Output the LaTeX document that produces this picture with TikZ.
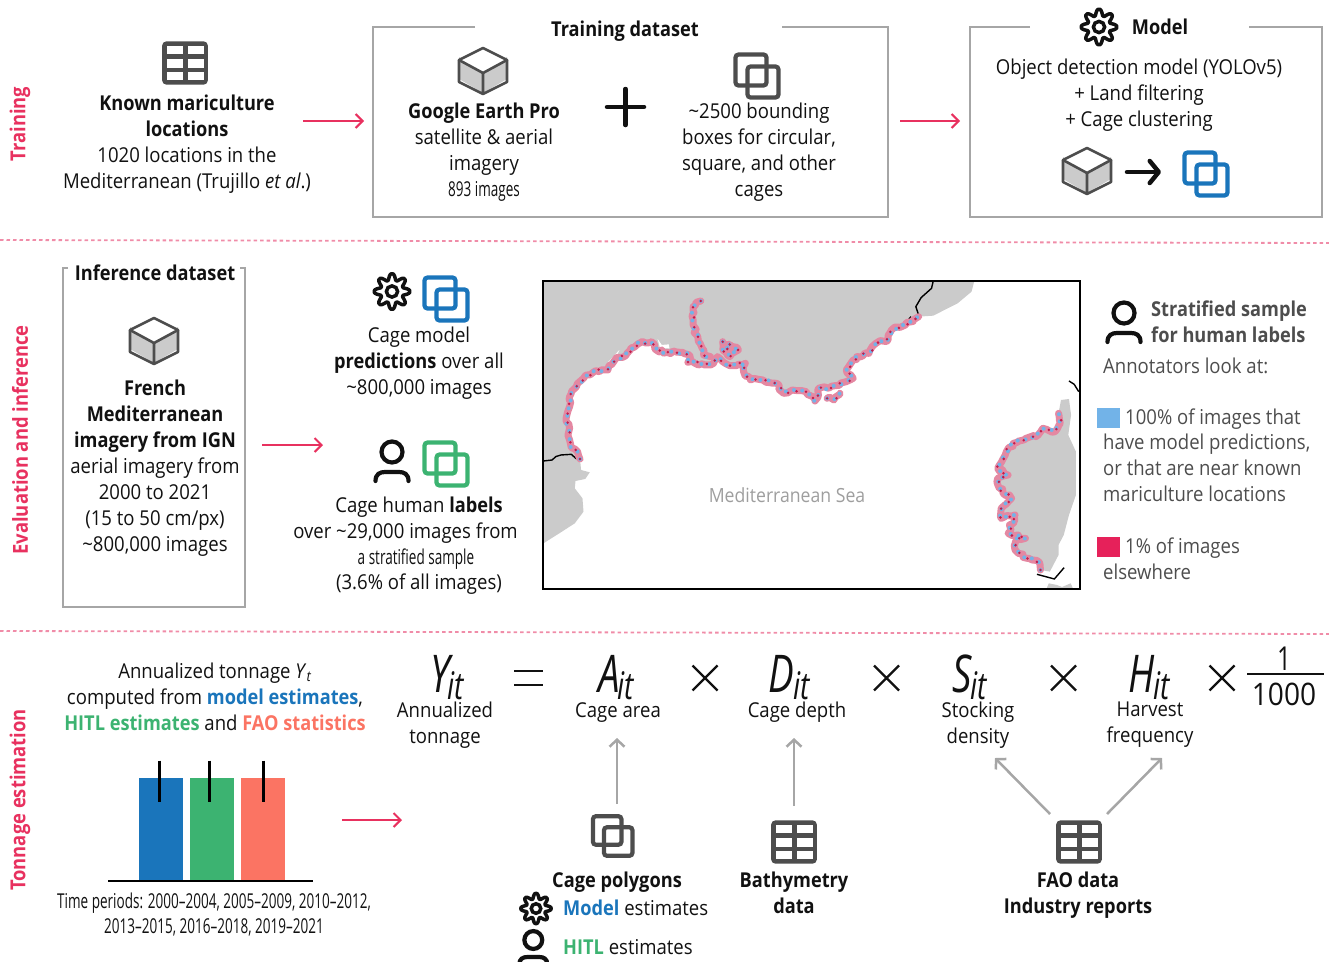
\documentclass[tikz,border=0pt]{standalone}
\usepackage{fontspec}
\setmainfont{Open Sans}[FakeStretch=.905,BoldFeatures={FakeStretch=.888}]
\newfontfamily\condf{Open Sans}[FakeStretch=.66]
\newfontfamily\symf{Open Sans}[FakeStretch=.74]
\usetikzlibrary{arrows.meta,decorations.pathmorphing}
\definecolor{ink}{HTML}{111111}
\definecolor{iconc}{HTML}{4D4D4D}
\definecolor{dgray}{HTML}{4D4D4D}
\definecolor{fram}{HTML}{A6A6A6}
\definecolor{pinkc}{HTML}{E8315F}
\definecolor{sepc}{HTML}{F08CA8}
\definecolor{blueb}{HTML}{1A75BB}
\definecolor{greenb}{HTML}{3CB371}
\definecolor{coral}{HTML}{FB7463}
\definecolor{lblue}{HTML}{72B3E8}
\definecolor{crim}{HTML}{E6215A}
\definecolor{landc}{HTML}{CBCBCB}
\definecolor{coastc}{HTML}{E488A2}
\tikzset{
 tx/.style={font=\fontsize{20.5}{26}\selectfont,align=center,inner sep=0pt,text=ink},
 txb/.style={tx,font=\bfseries\fontsize{20.5}{26}\selectfont},
 txl/.style={tx,align=left,anchor=west},
 small/.style={tx,font=\condf\fontsize{20.5}{25}\selectfont},
 side/.style={tx,rotate=90,text=pinkc,font=\bfseries\fontsize{20.7}{26}\selectfont},
 sep/.style={draw=sepc,line width=1.8pt,dash pattern=on 3.5pt off 3pt},
 frame/.style={draw=fram,line width=2.5pt,line join=miter},
 parrow/.style={draw=pinkc,line width=2pt,-{Straight Barb[length=7pt,width=14pt,line width=2pt]}},
 garrow/.style={draw=fram,line width=2.5pt,-{Straight Barb[length=7pt,width=15pt,line width=2.5pt]}},
 eq/.style={inner sep=0pt,text=ink},
 eqb/.style={eq,anchor=base},
 wob/.style={decorate,decoration={random steps,segment length=3.5pt,amplitude=1.7pt}},
 cbase/.style={wob,draw=coastc,line width=7pt,line cap=round,line join=round},
 cblue/.style={wob,draw=lblue,line width=4pt,line cap=round,dash pattern=on 0pt off 8.3pt},
 cred/.style={wob,draw=crim!85!black,line width=2.8pt,line cap=round,dash pattern=on 0pt off 10.3pt},
 pics/boxes/.style={code={
   \draw[#1,line width=4.2pt,rounded corners=3pt] (-21.5,-21.5) rectangle (9.5,9.5);
   \draw[#1,line width=4.2pt,rounded corners=3pt] (-9.5,-9.5) rectangle (21.5,21.5);}},
 pics/cube/.style={code={
   \path[fill=landc] (-24,-14)--(0,0)--(24,-14)--(24,8)--(0,22)--(-24,8)--cycle;
   \draw[draw=#1,line width=2.6pt,line join=round,fill=white] (-24,-11)--(0,-23)--(24,-11)--(0,2)--cycle;
   \draw[draw=#1,line width=2.6pt,line join=round] (-24,-11)--(-24,11)--(0,23)--(24,11)--(24,-11) (0,2)--(0,23);}},
 pics/gear/.style={code={
   \draw[ink,line width=3.5pt,line join=round] plot[domain=0:360,samples=145,smooth] ({(14.7+3*max(-1,min(1,1.15*cos(8*\x))))*cos(\x)},{(14.7+3*max(-1,min(1,1.15*cos(8*\x))))*sin(\x)}) -- cycle;
   \draw[ink,line width=3.5pt] (0,0) circle (5.6);}},
 pics/person/.style={code={
   \draw[ink,line width=4.2pt] (0,0) circle (10.5);
   \draw[ink,line width=4.2pt,line cap=round] (-16.5,29) .. controls (-16.5,22) and (-12,20) .. (-7,20) -- (7,20) .. controls (12,20) and (16.5,22) .. (16.5,29);}},
 pics/tabl/.style={code={
   \fill[iconc,rounded corners=4pt] (-22.8,-21.6) rectangle (22.8,21.6);
   \foreach \a/\b in {-18.2/-1.8,2.5/18.8}\foreach \c/\d in {-17/-8.7,-3.7/4.6,9.3/17.3}
     \fill[white] (\a,\c) rectangle (\b,\d);}},
}
\newcommand{\sym}[3]{{\symf\itshape\fontsize{52}{52}\selectfont #1}\kern#3pt\raisebox{-7pt}{\symf\itshape\fontsize{38}{38}\selectfont #2}}
\newcommand{\coastlines}[1]{%
 \draw[#1]
  (115,552) -- (108,530) -- (90,518) -- (85,495) -- (85,460) -- (75,430) -- (85,395) -- (85,365) -- (105,335) -- (125,310) -- (160,287) -- (195,285) -- (215,255) -- (250,235) -- (285,205) -- (320,200) -- (330,222) -- (365,232) -- (410,232) -- (430,240) -- (425,262) -- (490,270) -- (510,245) -- (525,260) -- (545,272) -- (590,265) -- (585,290) -- (605,315) -- (640,315) -- (680,325) -- (700,355) -- (725,345) -- (765,350) -- (790,378) -- (800,360) -- (800,340) -- (830,340) -- (880,320) -- (900,310) -- (880,285) -- (910,245) -- (945,235) -- (965,205) -- (1000,195) -- (1010,165) -- (1050,150) -- (1088,125);
 \draw[#1]
  (462,78) -- (440,95) -- (440,150) -- (460,205) -- (470,240) -- (490,245);
 \draw[#1]
  (525,200) -- (525,225) -- (545,245) -- (570,225) -- (545,208) -- (530,215) -- (550,230);
 \draw[#1]
  (825,370) -- (845,375) -- (862,355);
 \draw[#1]
  (1438,885) -- (1435,862) -- (1400,850) -- (1365,825) -- (1370,790) -- (1395,790) -- (1345,775) -- (1365,720) -- (1325,730) -- (1325,700) -- (1355,670) -- (1320,640) -- (1315,610) -- (1345,600) -- (1315,580) -- (1340,530) -- (1360,505) -- (1425,485) -- (1445,460) -- (1480,470) -- (1495,445) -- (1490,415);
}
\begin{document}
\begin{tikzpicture}[x=1pt,y=-1pt]
\pgfmathsetseed{7}
\useasboundingbox (0,0) rectangle (1329,961);
% separators
\coordinate (s1a) at (0,240); \coordinate (s1b) at (1329,243);
\coordinate (s2a) at (0,631); \coordinate (s2b) at (1329,634);
\draw[sep] (s1a) -- (s1b);
\draw[sep] (s2a) -- (s2b);
% side titles
\node[side] (t1) at (20,124) {Training};
\node[side] (t2) at (20,440) {Evaluation and inference};
\node[side] (t3) at (20,800) {Tonnage estimation};
% training row
\pic at (185,63) {tabl};
\node[tx] (known) at (187,144.5) {\textbf{Known mariculture}\\\textbf{locations}\\1020 locations in the\\Mediterranean (Trujillo \textit{et al}.)};
\coordinate (a1s) at (303,121); \coordinate (a1e) at (364,121);
\draw[parrow] (a1s) -- (a1e);
\draw[frame] (475,27) -- (373,27) -- (373,217) -- (888,217) -- (888,27) -- (782,27);
\node[txb] (tds) at (625,31) {Training dataset};
\pic at (483,71) {cube=iconc};
\node[tx] (gep) at (484,139) {\textbf{Google Earth Pro}\\satellite \& aerial\\imagery};
\node[small] (n893) at (484,191) {893 images};
\coordinate (pa) at (607,107); \coordinate (pb) at (644,107); \coordinate (pc) at (625.5,89); \coordinate (pd) at (625.5,125);
\draw[ink,line width=4.5pt,line cap=round] (pa) -- (pb) (pc) -- (pd);
\pic at (757,76) {boxes=iconc};
\node[tx] (bb) at (759,152) {\textasciitilde 2500 bounding\\boxes for circular,\\square, and other\\cages};
\coordinate (a2s) at (900,121); \coordinate (a2e) at (960,121);
\draw[parrow] (a2s) -- (a2e);
\draw[frame] (1030,27) -- (970,27) -- (970,217) -- (1322,217) -- (1322,27) -- (1249,27);
\pic at (1099,27) {gear};
\node[txb] (mdl) at (1160,27) {Model};
\node[tx] (od) at (1139,95.5) {Object detection model (YOLOv5)\\+ Land filtering\\+ Cage clustering};
\pic at (1087,171) {cube=iconc};
\coordinate (a3s) at (1127,172); \coordinate (a3e) at (1161,172);
\draw[ink,line width=4.5pt,line cap=round,-{Straight Barb[length=9pt,width=22pt,line width=4.5pt,round]}] (a3s) -- (a3e);
\pic at (1206,174) {boxes=blueb};
% inference row
\draw[frame] (68,268) -- (63,268) -- (63,607) -- (245,607) -- (245,268) -- (240,268);
\node[txb] (ids) at (155,273) {Inference dataset};
\pic at (154,341) {cube=iconc};
\node[tx] (fr) at (155,468.5) {\textbf{French}\\\textbf{Mediterranean}\\\textbf{imagery from IGN}\\aerial imagery from\\2000 to 2021\\(15 to 50 cm/px)\\\textasciitilde 800,000 images};
\coordinate (a4s) at (262,445); \coordinate (a4e) at (323,445);
\draw[parrow] (a4s) -- (a4e);
\pic at (392,291.5) {gear};
\pic at (446,299) {boxes=blueb};
\node[tx] (cm) at (419,363) {Cage model\\\textbf{predictions} over all\\\textasciitilde 800,000 images};
\pic at (392,452) {person};
\pic at (446,464) {boxes=greenb};
\node[tx] (hl1) at (419,507) {Cage human \textbf{labels}};
\node[tx] (hl2) at (405.5,533) {over \textasciitilde 29,000 images from};
\node[small] (hl3) at (416,559) {a stratified sample};
\node[tx] (hl4) at (419,584) {(3.6\% of all images)};
% map
\begin{scope}[shift={(540,275)},x=.348pt,y=-.3333pt]
\clip (10,18) rectangle (1550,942);
\fill[landc] (10,18) -- (1248,18) -- (1240,50) -- (1200,85) -- (1130,122) -- (1088,125) -- (1050,150) -- (1010,165) -- (1000,195) -- (965,205) -- (945,235) -- (910,245) -- (880,285) -- (900,310) -- (880,325) -- (830,340) -- (800,340) -- (790,360) -- (765,350) -- (725,345) -- (700,355) -- (680,325) -- (640,315) -- (605,315) -- (585,290) -- (590,265) -- (545,272) -- (525,260) -- (510,258) -- (490,270) -- (425,262) -- (430,240) -- (410,232) -- (365,232) -- (330,222) -- (320,200) -- (285,205) -- (250,235) -- (215,255) -- (195,285) -- (160,287) -- (125,310) -- (105,335) -- (85,365) -- (85,395) -- (75,430) -- (85,460) -- (85,495) -- (90,518) -- (108,530) -- (115,552) -- (118,585) -- (143,592) -- (130,612) -- (102,618) -- (100,640) -- (122,670) -- (125,710) -- (100,745) -- (60,772) -- (10,805) -- cycle;
\fill[white] (195,262) -- (228,225) -- (222,240) -- (205,258) -- cycle (338,192) -- (350,210) -- (370,208) -- (372,220) -- (345,220) -- cycle;
\fill[landc] (1490,415) -- (1497,375) -- (1520,372) -- (1526,420) -- (1518,480) -- (1540,530) -- (1540,660) -- (1520,720) -- (1505,780) -- (1490,810) -- (1490,840) -- (1465,890) -- (1438,885) -- (1435,862) -- (1400,850) -- (1365,825) -- (1370,790) -- (1345,775) -- (1365,725) -- (1325,730) -- (1325,700) -- (1355,670) -- (1320,640) -- (1315,610) -- (1345,600) -- (1315,580) -- (1340,530) -- (1360,505) -- (1425,485) -- (1445,460) -- (1480,470) -- (1495,445) -- cycle;
\fill[landc] (1455,942) -- (1462,925) -- (1485,930) -- (1500,936) -- (1525,925) -- (1532,942) -- cycle;
\draw[black,line width=1.4pt] (10,558) -- (35,555) -- (45,545) -- (60,540) -- (90,538) -- (105,552);
\draw[black,line width=1.4pt] (1130,18) -- (1125,40) -- (1095,68) -- (1080,95) -- (1088,120);
\draw[black,line width=1.4pt] (1058,135) -- (1066,125);
\draw[black,line width=1.4pt] (1520,318) -- (1535,328) -- (1548,350);
\draw[black,line width=1.4pt] (1428,898) -- (1478,912) -- (1506,878);
\coastlines{cbase}
\coastlines{cblue}
\coastlines{cred}
\end{scope}
\coordinate (mapa) at (543,281); \coordinate (mapb) at (1080,589);
\draw[black,line width=2pt] (mapa) rectangle (mapb);
\node[tx,text=black!38,font=\fontsize{19.5}{24}\selectfont] (med) at (787,495) {Mediterranean Sea};
% right legend
\pic at (1124,313) {person};
\node[txl,text=dgray,font=\bfseries\fontsize{20.5}{26}\selectfont] (ss) at (1151,322) {Stratified sample\\for human labels};
\node[txl,text=dgray] (an) at (1103,366) {Annotators look at:};
\fill[lblue] (1097,408) rectangle (1120,428);
\node[txl,text=dgray] (p100) at (1125,419) {100\% of images that};
\node[txl,text=dgray] (p100b) at (1103,468) {have model predictions,\\or that are near known\\mariculture locations};
\fill[crim] (1097,537) rectangle (1120,557);
\node[txl,text=dgray] (p1) at (1125,548) {1\% of images};
\node[txl,text=dgray] (p1b) at (1103,572) {elsewhere};
% tonnage left
\node[tx] (yt) at (215,697) {Annualized tonnage \textit{Y}\textsubscript{\textit{t}}\\computed from \textcolor{blueb}{\textbf{model estimates}},\\\textcolor{greenb}{\textbf{HITL estimates}} and \textcolor{coral}{\textbf{FAO statistics}}};
\fill[blueb] (139,778) rectangle (183,880);
\fill[greenb] (190,778) rectangle (234,880);
\fill[coral] (241.3,778) rectangle (285.3,880);
\coordinate (b0) at (108,881); \coordinate (b1) at (313,881);
\draw[black,line width=2.5pt] (b0) -- (b1);
\foreach \x in {159.3,209.3,263.3}\draw[black,line width=2.5pt] (\x,760.7) -- (\x,801.7);
\node[small] (tp) at (214,914.5) {Time periods: 2000–2004, 2005–2009, 2010–2012,\\2013–2015, 2016–2018, 2019–2021};
\coordinate (a5s) at (342,820); \coordinate (a5e) at (402,820);
\draw[parrow] (a5s) -- (a5e);
% equation
\node[eqb] (yi) at (447,692) {\sym{Y}{it}{-3}};
\node[tx] (yil) at (445,725) {Annualized\\tonnage};
\coordinate (ea) at (514,671); \coordinate (eb) at (543,671); \coordinate (ec) at (514,685); \coordinate (ed) at (543,685);
\draw[ink,line width=2.8pt] (ea) -- (eb) (ec) -- (ed);
\node[eqb] (ai) at (616,692) {\sym{A}{it}{-2}};
\node[tx] (ail) at (618,712.5) {Cage area};
\node[eqb] (di) at (789,692) {\sym{D}{it}{-1}};
\node[tx] (dil) at (797,712.5) {Cage depth};
\node[eqb] (si) at (969.5,692) {\sym{S}{it}{-1}};
\node[tx] (sil) at (978,725) {Stocking\\density};
\node[eqb] (hi) at (1149,692) {\sym{H}{it}{-1}};
\node[tx] (hil) at (1150,725) {Harvest\\frequency};
\foreach \x in {705,886.5,1063.5,1222}{
 \draw[ink,line width=2.4pt] (\x-12.5,665.5) -- (\x+12.5,690.5) (\x-12.5,690.5) -- (\x+12.5,665.5);}
\coordinate (fa) at (1247,674); \coordinate (fb) at (1324,674);
\draw[ink,line width=2.4pt] (fa) -- (fb);
\node[eq,font=\symf\fontsize{33}{33}\selectfont] (f1) at (1284,659) {1};
\node[eq,font=\fontsize{31}{33}\selectfont] (f2) at (1284,694) {1000};
% inputs
\pic[scale=.92] at (612.7,836) {boxes=iconc};
\node[txb] (cp) at (617,882) {Cage polygons};
\pic[scale=.85] at (536,908.5) {gear};
\node[txl] (me) at (563,908) {\textcolor{blueb}{\textbf{Model}} estimates};
\pic[scale=.85] at (533.3,940) {person};
\node[txl] (he) at (563,947) {\textcolor{greenb}{\textbf{HITL}} estimates};
\pic at (794,842) {tabl};
\node[txb] (bat) at (794,893) {Bathymetry\\data};
\pic at (1079,842) {tabl};
\node[txb] (fao) at (1078,895) {FAO data\\Industry reports};
\coordinate (g1s) at (617,804); \coordinate (g1e) at (617,738);
\coordinate (g2s) at (794,806); \coordinate (g2e) at (794,738);
\coordinate (g3s) at (1050,814); \coordinate (g3e) at (995,758);
\coordinate (g4s) at (1107,814); \coordinate (g4e) at (1162,758);
\draw[garrow] (g1s) -- (g1e);
\draw[garrow] (g2s) -- (g2e);
\draw[garrow] (g3s) -- (g3e);
\draw[garrow] (g4s) -- (g4e);
\end{tikzpicture}
\end{document}
